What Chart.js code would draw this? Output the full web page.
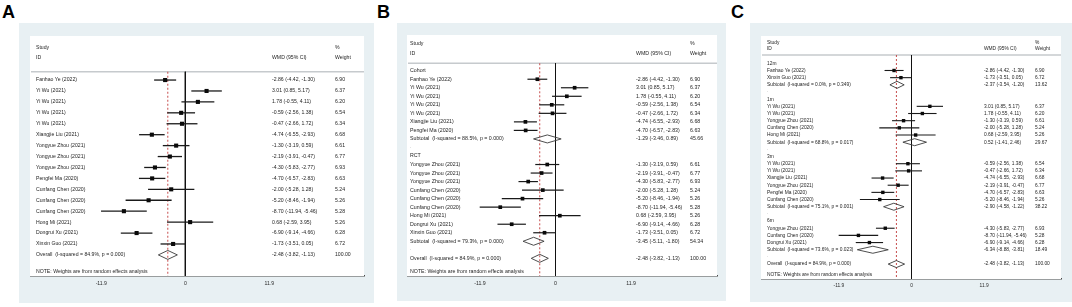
<!DOCTYPE html>
<html><head><meta charset="utf-8">
<script src="https://cdn.jsdelivr.net/npm/chart.js@4.4.1/dist/chart.umd.min.js"></script>
<style>
html,body{margin:0;padding:0;background:#fff;width:1072px;height:307px;overflow:hidden;}
.panel{position:absolute;background:#e8f0f3;}
.letter{position:absolute;top:3px;font:bold 18px "Liberation Sans",Arial,sans-serif;line-height:1;color:#000;}
canvas{position:absolute;left:0;top:0;}
</style></head><body>
<div class="letter" style="left:2px">A</div>
<div class="letter" style="left:377px">B</div>
<div class="letter" style="left:731px">C</div>
<div class="panel" style="left:19px;top:23px;width:355px;height:280px"><canvas id="cA" width="355" height="280"></canvas></div>
<div class="panel" style="left:397px;top:23px;width:329px;height:278px"><canvas id="cB" width="329" height="278"></canvas></div>
<div class="panel" style="left:750px;top:23px;width:322px;height:279px"><canvas id="cC" width="322" height="279"></canvas></div>
<script>
// ---------- shared ----------
const xTickValues = [-11.9, 0, 11.9];
const xTickLabels = ['-11.9', '0', '11.9'];
const headerTexts = ['Study', 'ID', 'WMD (95% CI)', '%', 'Weight'];
const noteText = 'NOTE: Weights are from random effects analysis';
const overallText = 'Overall  (I-squared = 84.9%, p = 0.000)';

// ---------- Panel A ----------
const labelA = ['Fanhao Ye (2022)','Yi Wu (2021)','Yi Wu (2021)','Yi Wu (2021)','Yi Wu (2021)','Xiangjie Liu (2021)','Yongyue Zhou (2021)','Yongyue Zhou (2021)','Yongyue Zhou (2021)','Pengfei Ma (2020)','Cunfang Chen (2020)','Cunfang Chen (2020)','Cunfang Chen (2020)','Hong Mi (2021)','Dongrui Xu (2021)','Xinxin Guo (2021)', overallText];
const kindA = ['s','s','s','s','s','s','s','s','s','s','s','s','s','s','s','s','d'];
const estA = [-2.86,3.01,1.78,-0.59,-0.47,-4.74,-1.30,-2.19,-4.30,-4.70,-2.00,-5.20,-8.70,0.68,-6.90,-1.73,-2.48];
const loA  = [-4.42,0.85,-0.55,-2.56,-2.66,-6.55,-3.19,-3.91,-5.83,-6.57,-5.28,-8.46,-11.94,-2.59,-9.14,-3.51,-3.82];
const hiA  = [-1.30,5.17,4.11,1.38,1.72,-2.93,0.59,-0.47,-2.77,-2.83,1.28,-1.94,-5.46,3.95,-4.66,0.05,-1.13];
const wtA  = [6.90,6.37,6.20,6.54,6.34,6.68,6.61,6.77,6.93,6.63,5.24,5.26,5.28,5.26,6.28,6.72,100.00];

// ---------- Panel B ----------
const labelB = ['Cohort','Fanhao Ye (2022)','Yi Wu (2021)','Yi Wu (2021)','Yi Wu (2021)','Yi Wu (2021)','Xiangjie Liu (2021)','Pengfei Ma (2020)','Subtotal  (I-squared = 88.5%, p = 0.000)','.','RCT','Yongyue Zhou (2021)','Yongyue Zhou (2021)','Yongyue Zhou (2021)','Cunfang Chen (2020)','Cunfang Chen (2020)','Cunfang Chen (2020)','Hong Mi (2021)','Dongrui Xu (2021)','Xinxin Guo (2021)','Subtotal  (I-squared = 79.3%, p = 0.000)','.', overallText];
const kindB = ['h','s','s','s','s','s','s','s','d','b','h','s','s','s','s','s','s','s','s','s','d','b','d'];
const estB = [null,-2.86,3.01,1.78,-0.59,-0.47,-4.74,-4.70,-1.29,null,null,-1.30,-2.19,-4.30,-2.00,-5.20,-8.70,0.68,-6.90,-1.73,-3.45,null,-2.48];
const loB  = [null,-4.42,0.85,-0.55,-2.56,-2.66,-6.55,-6.57,-3.46,null,null,-3.19,-3.91,-5.83,-5.28,-8.46,-11.94,-2.59,-9.14,-3.51,-5.11,null,-3.82];
const hiB  = [null,-1.30,5.17,4.11,1.38,1.72,-2.93,-2.83,0.89,null,null,0.59,-0.47,-2.77,1.28,-1.94,-5.46,3.95,-4.66,0.05,-1.80,null,-1.13];
const wtB  = [null,6.90,6.37,6.20,6.54,6.34,6.68,6.63,45.66,null,null,6.61,6.77,6.93,5.24,5.26,5.28,5.26,6.28,6.72,54.34,null,100.00];

// ---------- Panel C ----------
const labelC = ['12m','Fanhao Ye (2022)','Xinxin Guo (2021)','Subtotal  (I-squared = 0.0%, p = 0.349)','.','1m','Yi Wu (2021)','Yi Wu (2021)','Yongyue Zhou (2021)','Cunfang Chen (2020)','Hong Mi (2021)','Subtotal  (I-squared = 68.8%, p = 0.017)','.','3m','Yi Wu (2021)','Yi Wu (2021)','Xiangjie Liu (2021)','Yongyue Zhou (2021)','Pengfei Ma (2020)','Cunfang Chen (2020)','Subtotal  (I-squared = 75.1%, p = 0.001)','.','6m','Yongyue Zhou (2021)','Cunfang Chen (2020)','Dongrui Xu (2021)','Subtotal  (I-squared = 73.6%, p = 0.023)','.', overallText];
const kindC = ['h','s','s','d','b','h','s','s','s','s','s','d','b','h','s','s','s','s','s','s','d','b','h','s','s','s','d','b','d'];
const estC = [null,-2.86,-1.73,-2.37,null,null,3.01,1.78,-1.30,-2.00,0.68,0.52,null,null,-0.59,-0.47,-4.74,-2.19,-4.70,-5.20,-2.90,null,null,-4.30,-8.70,-6.90,-6.34,null,-2.48];
const loC  = [null,-4.42,-3.51,-3.54,null,null,0.85,-0.55,-3.19,-5.28,-2.59,-1.41,null,null,-2.56,-2.66,-6.55,-3.91,-6.57,-8.46,-4.58,null,null,-5.83,-11.94,-9.14,-8.88,null,-3.82];
const hiC  = [null,-1.30,0.05,-1.20,null,null,5.17,4.11,0.59,1.28,3.95,2.46,null,null,1.38,1.72,-2.93,-0.47,-2.83,-1.94,-1.22,null,null,-2.77,-5.46,-4.66,-3.81,null,-1.13];
const wtC  = [null,6.90,6.72,13.62,null,null,6.37,6.20,6.61,5.24,5.26,29.67,null,null,6.54,6.34,6.68,6.77,6.63,5.26,38.22,null,null,6.93,5.28,6.28,18.49,null,100.00];

const FONT = '"Liberation Sans", Arial, Helvetica, sans-serif';
const f2 = v => v.toFixed(2);

function makeTextPlugin(d, L) {
  return {
    id: 'forestText',
    beforeDatasetsDraw(chart) {
      const {ctx, chartArea: a} = chart;
      ctx.save();
      ctx.fillStyle = '#ffffff';
      ctx.fillRect(a.left - 1, a.top, a.right - a.left + 1, a.bottom - a.top);
      ctx.restore();
    },
    afterDraw(chart) {
      const {ctx, chartArea: a, scales: {y}} = chart;
      ctx.save();
      ctx.font = L.font + 'px ' + FONT;
      ctx.textBaseline = 'middle';
      ctx.textAlign = 'left';
      const cx = L.cols.map(c => a.left + c);
      const put = (t, col, row, color) => {
        ctx.fillStyle = color || '#1e1e1e';
        ctx.fillText(t, cx[col], y.getPixelForValue(row));
      };
      put(headerTexts[0], 0, L.hdr[0]);
      put(headerTexts[1], 0, L.hdr[1]);
      put(headerTexts[2], 1, L.hdr[1]);
      put(headerTexts[3], 2, L.hdr[0]);
      put(headerTexts[4], 2, L.hdr[1]);
      d.labels.forEach((lab, i) => {
        if (d.kinds[i] === 'b') { put(lab, 0, i - 0.15, '#9a9a9a'); return; }
        put(lab, 0, i);
        if (d.est[i] !== null) {
          put(f2(d.est[i]) + ' (' + f2(d.lo[i]) + ', ' + f2(d.hi[i]) + ')', 1, i);
          put(f2(d.wt[i]), 2, i);
        }
      });
      put(noteText, 0, L.note);
      ctx.restore();
    }
  };
}

function buildForest(id, d, L) {
  const datasets = [];
  // study point estimates
  const pts = [];
  d.kinds.forEach((k, i) => { if (k === 's') pts.push({x: d.est[i], y: i}); });
  datasets.push({data: pts, pointStyle: 'rect', pointRadius: L.r, pointBackgroundColor: '#0a0a0a', pointBorderWidth: 0, showLine: false});
  // confidence intervals
  d.kinds.forEach((k, i) => {
    if (k === 's') datasets.push({data: [{x: d.lo[i], y: i}, {x: d.hi[i], y: i}], showLine: true, pointRadius: 0, borderColor: '#1a1a1a', borderWidth: L.lw});
  });
  // diamonds
  d.kinds.forEach((k, i) => {
    if (k === 'd') datasets.push({data: [
      {x: d.lo[i], y: i}, {x: d.est[i], y: i - L.dh}, {x: d.hi[i], y: i}, {x: d.est[i], y: i + L.dh}, {x: d.lo[i], y: i}
    ], showLine: true, pointRadius: 0, borderColor: '#3a3a3a', borderWidth: 0.9, tension: 0});
  });
  const ov = d.est[d.est.length - 1];
  // null line at 0
  datasets.push({data: [{x: 0, y: L.rule}, {x: 0, y: L.ymax}], showLine: true, pointRadius: 0, borderColor: '#111', borderWidth: 1});
  // overall dashed line
  datasets.push({data: [{x: ov, y: L.rule}, {x: ov, y: L.ymax}], showLine: true, pointRadius: 0, borderColor: '#c03a3a', borderWidth: 0.9, borderDash: [2, 2]});
  // header rule
  datasets.push({data: [{x: L.xmin, y: L.rule}, {x: L.xmax, y: L.rule}], showLine: true, pointRadius: 0, borderColor: '#c6cacd', borderWidth: 1.6});

  new Chart(document.getElementById(id), {
    type: 'scatter',
    data: {datasets},
    plugins: [makeTextPlugin(d, L)],
    options: {
      responsive: false, animation: false, devicePixelRatio: 1,
      layout: {padding: L.pad},
      plugins: {legend: {display: false}, tooltip: {enabled: false}},
      elements: {line: {tension: 0}},
      scales: {
        x: {
          type: 'linear', min: L.xmin, max: L.xmax,
          afterBuildTicks: s => { s.ticks = xTickValues.map(v => ({value: v})); },
          afterFit: s => { s.height = L.xh; },
          ticks: {callback: (v, i) => xTickLabels[i], autoSkip: false, maxRotation: 0, padding: 4,
                  color: '#2a2a2a', font: {family: FONT, size: L.font}},
          grid: {drawOnChartArea: false, drawTicks: false},
          border: {display: true, color: '#4a4a4a', width: 1.4}
        },
        y: {type: 'linear', reverse: true, min: L.ymin, max: L.ymax, display: false}
      }
    }
  });
}

buildForest('cA', {labels: labelA, kinds: kindA, est: estA, lo: loA, hi: hiA, wt: wtA}, {
  pad: {left: 12, right: 10, top: 13, bottom: 13}, xh: 14,
  xmin: -21.86, xmax: 25.31, ymin: -4.03, ymax: 17.93,
  cols: [5, 241, 304], hdr: [-2.93, -2.01], rule: -0.76, note: 17.57,
  font: 5.15, r: 2.9, lw: 1.3, dh: 0.41
});
buildForest('cB', {labels: labelB, kinds: kindB, est: estB, lo: loB, hi: hiB, wt: wtB}, {
  pad: {left: 11, right: 9, top: 12, bottom: 11}, xh: 14,
  xmin: -23.23, xmax: 25.43, ymin: -4.185, ymax: 24.07,
  cols: [2, 228, 282], hdr: [-3.13, -2.04], rule: -0.87, note: 23.56,
  font: 5.25, r: 2.6, lw: 1.2, dh: 0.47
});
buildForest('cC', {labels: labelC, kinds: kindC, est: estC, lo: loC, hi: hiC, wt: wtC}, {
  pad: {left: 12, right: 11, top: 13, bottom: 10}, xh: 13,
  xmin: -24.51, xmax: 24.51, ymin: -3.81, ymax: 30.08,
  cols: [5, 222, 273], hdr: [-2.9, -1.99], rule: -1.16, note: 29.53,
  font: 4.85, r: 2.4, lw: 1.1, dh: 0.49
});
</script>
</body></html>
